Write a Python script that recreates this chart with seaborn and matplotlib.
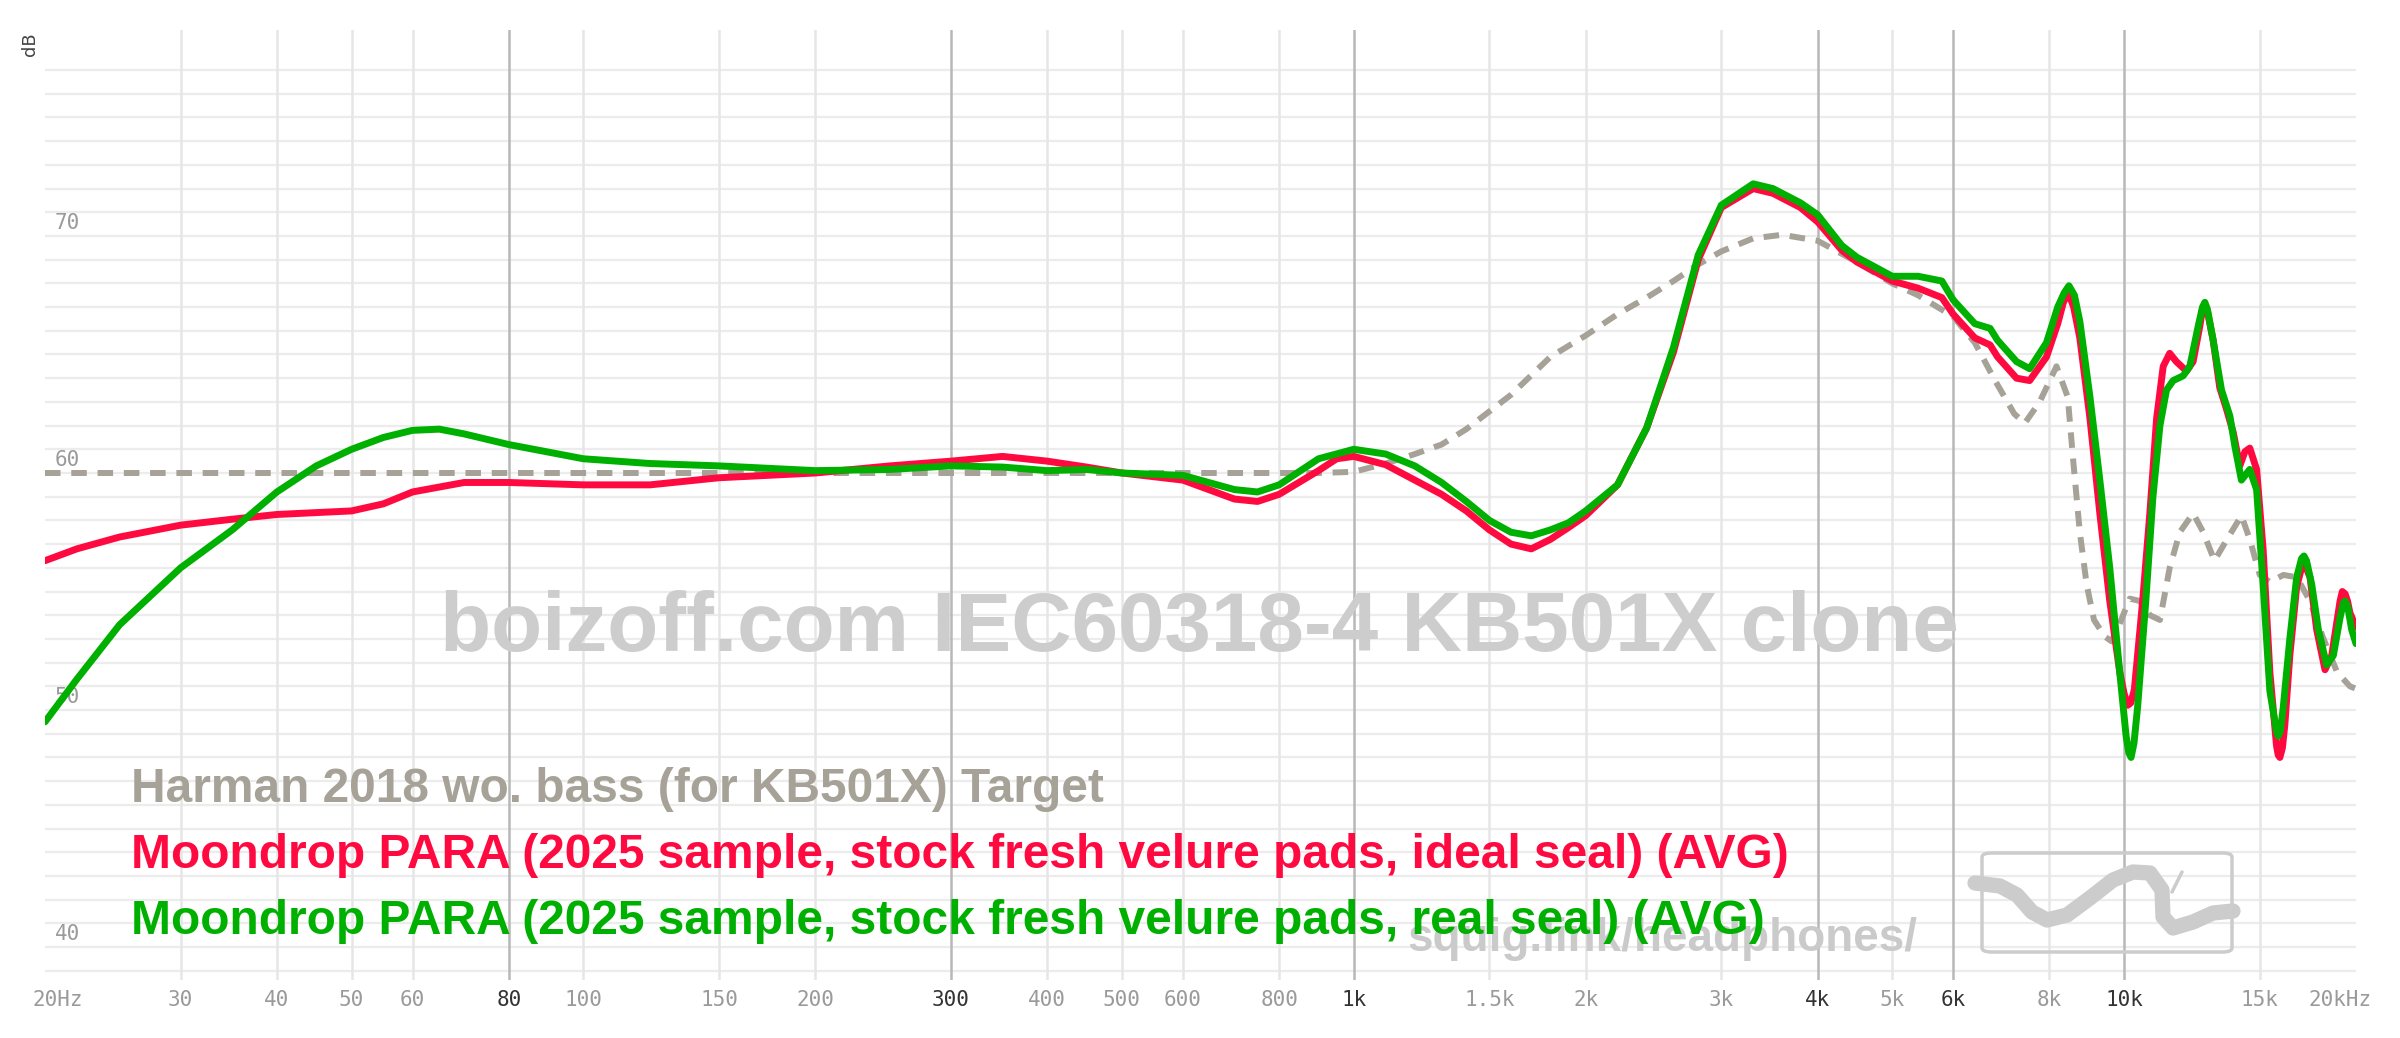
import numpy as np
import pandas as pd
import seaborn as sns
import matplotlib
matplotlib.use("Agg")
import matplotlib.pyplot as plt
import matplotlib.transforms as mtransforms
from matplotlib.patches import FancyBboxPatch
from matplotlib.lines import Line2D

# ---- data ----
target_freq = [20, 100, 500, 900, 1000, 1100, 1200, 1300, 1400, 1500, 1600, 1800, 2000, 2200,
               2400, 2600, 2800, 3000, 3300, 3600, 4000, 4500, 5000, 5400, 6000, 6400, 6800,
               7200, 7430, 7770, 8170, 8450, 8590, 8760, 8940, 9140, 9440, 9630, 9830, 10170,
               10480, 10800, 11130, 11460, 11810, 12290, 12670, 13100, 13600, 14200, 14560,
               15000, 15460, 16100, 16750, 17430, 18100, 18900, 19640, 20000]
target_db = [60.0, 60.0, 60.0, 60.0, 60.05, 60.4, 60.8, 61.2, 61.85, 62.6, 63.3, 64.9, 65.8, 66.7,
             67.4, 68.1, 68.8, 69.35, 69.9, 70.05, 69.8, 68.9, 68.0, 67.5, 66.6, 65.5, 63.9,
             62.5, 62.1, 63.0, 64.5, 63.2, 60.5, 57.5, 55.3, 53.8, 53.1, 52.9, 53.5, 54.7,
             54.6, 54.0, 53.8, 56.0, 57.5, 58.3, 57.5, 56.3, 57.2, 58.2, 57.2,
             55.7, 55.4, 55.7, 55.6, 54.6, 53.1, 51.6, 51.0, 50.9]

ideal_freq = [20, 22, 25, 30, 35, 40, 50, 55, 60, 70, 80, 100, 122, 150, 200, 250, 300, 350, 400,
              450, 500, 600, 700, 750, 800, 900, 950, 1000, 1100, 1200, 1300, 1400, 1500, 1600,
              1700, 1800, 1900, 2000, 2200, 2400, 2600, 2800, 3000, 3300, 3500, 3800, 4000, 4300,
              4500, 5000, 5400, 5800, 6000, 6400, 6700, 6850, 7250, 7540, 7930, 8200, 8340, 8470,
              8600, 8760, 9030, 9300, 9580, 9870, 10000, 10110, 10200, 10310, 10570, 10800, 11020,
              11240, 11460, 11690, 12050, 12290, 12540, 12640, 12730, 12830, 13050, 13310, 13580,
              13860, 14130, 14350, 14560, 14860, 15150, 15460, 15770, 15850, 15930, 16050, 16170,
              16410, 16750, 17090, 17430, 17780, 18230, 18600, 19070, 19200, 19360, 19500, 19640,
              20000]
ideal_db = [56.3, 56.8, 57.3, 57.8, 58.05, 58.25, 58.4, 58.7, 59.2, 59.6, 59.6, 59.5, 59.5, 59.8,
            60.0, 60.3, 60.5, 60.7, 60.5, 60.25, 60.0, 59.7, 58.9, 58.8, 59.1, 60.1, 60.6, 60.7,
            60.35, 59.7, 59.1, 58.4, 57.6, 57.0, 56.8, 57.2, 57.7, 58.2, 59.5, 61.9, 65.1, 69.0,
            71.2, 72.0, 71.8, 71.2, 70.6, 69.4, 68.9, 68.1, 67.8, 67.4, 66.7, 65.7, 65.4, 64.9,
            64.0, 63.9, 64.9, 66.3, 67.2, 67.6, 67.0, 65.7, 62.3, 58.3, 54.6, 51.6, 50.7, 50.2,
            50.3, 50.85, 54.6, 58.3, 62.3, 64.5, 65.05, 64.7, 64.3, 64.7, 66.2, 66.9, 67.05, 66.8,
            65.6, 63.6, 62.7, 61.7, 60.3, 60.9, 61.05, 60.15, 56.8, 51.6, 48.5, 48.1, 48.0, 48.4,
            49.4, 52.3, 55.2, 56.3, 55.6, 53.4, 51.7, 52.3, 54.6, 55.0, 54.9, 54.6, 54.1, 53.5]

real_freq = [20, 22, 25, 30, 35, 40, 45, 50, 55, 60, 65, 70, 80, 100, 122, 150, 200, 250, 300,
             350, 400, 450, 500, 600, 700, 750, 800, 900, 1000, 1100, 1200, 1300, 1400, 1500,
             1600, 1700, 1800, 1900, 2000, 2200, 2400, 2600, 2800, 3000, 3300, 3500, 3800, 4000,
             4300, 4500, 5000, 5400, 5800, 6000, 6400, 6700, 6850, 7250, 7540, 7930, 8200, 8360,
             8480, 8620, 8760, 9030, 9300, 9580, 9870, 10060, 10140, 10210, 10300, 10410, 10670,
             10900, 11130, 11350, 11580, 11930, 12170, 12480, 12640, 12730, 12830, 13050, 13380,
             13720, 13930, 14200, 14560, 14860, 15150, 15460, 15770, 15850, 15950, 16090, 16410,
             16750, 17000, 17120, 17250, 17520, 17870, 18320, 18690, 19070, 19250, 19360, 19500,
             19740, 20000]
real_db = [49.5, 51.3, 53.6, 56.0, 57.6, 59.2, 60.3, 61.0, 61.5, 61.8, 61.85, 61.65, 61.2, 60.6,
           60.4, 60.3, 60.1, 60.15, 60.3, 60.25, 60.1, 60.15, 60.0, 59.9, 59.3, 59.2, 59.5, 60.6,
           61.0, 60.8, 60.3, 59.6, 58.8, 58.0, 57.5, 57.35, 57.6, 57.9, 58.4, 59.5, 61.9, 65.3,
           69.2, 71.3, 72.2, 72.0, 71.4, 70.9, 69.6, 69.1, 68.3, 68.3, 68.1, 67.3, 66.3, 66.1,
           65.6, 64.7, 64.4, 65.5, 67.0, 67.6, 67.9, 67.5, 66.4, 63.2, 59.7, 56.0, 51.6, 48.9,
           48.2, 48.0, 48.6, 50.1, 54.6, 59.0, 62.0, 63.5, 63.9, 64.1, 64.5, 66.2, 67.0, 67.2,
           66.9, 65.6, 63.5, 62.4, 61.1, 59.7, 60.15, 59.3, 55.3, 50.8, 49.1, 48.9, 49.1, 50.1,
           53.0, 55.6, 56.4, 56.5, 56.3, 55.3, 53.4, 51.9, 52.3, 53.9, 54.5, 54.6, 54.4, 53.4,
           52.8]

tick_freqs = [20, 30, 40, 50, 60, 80, 100, 150, 200, 300, 400, 500, 600, 800, 1000, 1500, 2000,
              3000, 4000, 5000, 6000, 8000, 10000, 15000, 20000]
tick_labels = ["20Hz", "30", "40", "50", "60", "80", "100", "150", "200", "300", "400", "500",
               "600", "800", "1k", "1.5k", "2k", "3k", "4k", "5k", "6k", "8k", "10k", "15k", "20kHz"]
strong_ticks = [80, 300, 1000, 4000, 6000, 10000]
db_labels = [40, 50, 60, 70]

names = ["Harman 2018 wo. bass (for KB501X) Target",
         "Moondrop PARA (2025 sample, stock fresh velure pads, ideal seal) (AVG)",
         "Moondrop PARA (2025 sample, stock fresh velure pads, real seal) (AVG)"]
colors = ["#a7a298", "#ff0a40", "#00b000"]

# ---- figure ----
W, H = 2400, 1038
sns.set_theme(style="white")
plt.rcParams["font.family"] = ["Liberation Sans", "DejaVu Sans"]

fig = plt.figure(figsize=(W / 100, H / 100), dpi=100)
fig.patch.set_facecolor("white")
ax = fig.add_axes([45 / W, 1 - 980 / H, (2356 - 45) / W, (980 - 30) / H])
ax.set_xscale("log")
ax.set_xlim(20, 20000)
ax.set_ylim(38.61, 78.69)
for s in ax.spines.values():
    s.set_visible(False)
ax.set_xticks([])
ax.set_yticks([])
ax.minorticks_off()

# grid
ax.hlines(np.arange(39, 78), 20, 20000, color="#ececec", lw=1.6, zorder=1)
for f in tick_freqs[1:-1]:
    ax.axvline(f, color="#b8b8b8" if f in strong_ticks else "#e6e6e6", lw=1.8, zorder=1)

# watermark texts
fig.text(440 / W, 1 - 651 / H, "boizoff.com IEC60318-4 KB501X clone", fontsize=60.2,
         fontweight="bold", color="#cdcdcd", ha="left", va="baseline", zorder=0.5)
fig.text(1917 / W, 1 - 951 / H, "squig.link/headphones/", fontsize=33,
         fontweight="bold", color="#cacaca", ha="right", va="baseline", zorder=0.5)

# logo
fig.patches.append(FancyBboxPatch((1982 / W, 1 - 952 / H), 250 / W, 99 / H,
                                  boxstyle="round,pad=0,rounding_size=0.004",
                                  transform=fig.transFigure, fill=False,
                                  ec="#cccccc", lw=2.5, zorder=0.5))
sq_x = [1975, 2000, 2017, 2032, 2047, 2067, 2090, 2113, 2133, 2150, 2162, 2163, 2173, 2193, 2213, 2233]
sq_y = [883, 886, 895, 912, 920, 915, 898, 880, 872, 873, 890, 917, 928, 922, 913, 911]
fig.lines.append(Line2D(np.array(sq_x) / W, 1 - np.array(sq_y) / H, transform=fig.transFigure,
                        color="#cccccc", lw=11, solid_capstyle="round", solid_joinstyle="round"))
fig.lines.append(Line2D([2172 / W, 2182 / W], [1 - 892 / H, 1 - 872 / H], transform=fig.transFigure,
                        color="#cccccc", lw=2.5))

# curves
sns.lineplot(x=target_freq, y=target_db, ax=ax, color=colors[0], lw=4.3, zorder=3,
             estimator=None, sort=False)
ax.lines[-1].set_dashes([2.6, 1.8])
ax.lines[-1].set_dash_capstyle("butt")
sns.lineplot(x=ideal_freq, y=ideal_db, ax=ax, color=colors[1], lw=5, zorder=4,
             estimator=None, sort=False)
sns.lineplot(x=real_freq, y=real_db, ax=ax, color=colors[2], lw=5, zorder=5,
             estimator=None, sort=False)
for ln in ax.lines[-2:]:
    ln.set_solid_joinstyle("round")
    ln.set_solid_capstyle("round")
ax.set_xlabel("")
ax.set_ylabel("")

# tick labels
mono = "DejaVu Sans Mono"
xt = mtransforms.blended_transform_factory(ax.transData, fig.transFigure)
for f, lab in zip(tick_freqs, tick_labels):
    c = "#333333" if f in strong_ticks else "#9a9a9a"
    if lab == "20Hz":
        fig.text(32 / W, 1 - 1000 / H, lab, ha="left", va="center", fontsize=15, family=mono, color=c)
    elif lab == "20kHz":
        fig.text(2372 / W, 1 - 1000 / H, lab, ha="right", va="center", fontsize=15, family=mono, color=c)
    else:
        ax.text(f, 1 - 1000 / H, lab, transform=xt, ha="center", va="center", fontsize=15,
                family=mono, color=c)
yt = mtransforms.blended_transform_factory(fig.transFigure, ax.transData)
for d in db_labels:
    ax.text(55 / W, d + 0.55, str(d), transform=yt, ha="left", va="center", fontsize=15,
            family=mono, color="#9a9a9a", zorder=2)
fig.text(30 / W, 1 - 44 / H, "dB", rotation=90, ha="center", va="center", fontsize=13,
         family="DejaVu Sans", color="#444444")

# legend labels
for name, c, yb in zip(names, colors, [802, 868, 934]):
    fig.text(131 / W, 1 - yb / H, name, fontsize=34.5, fontweight="bold", color=c,
             ha="left", va="baseline", zorder=10)

fig.savefig("out.png", dpi=100, facecolor="white")
